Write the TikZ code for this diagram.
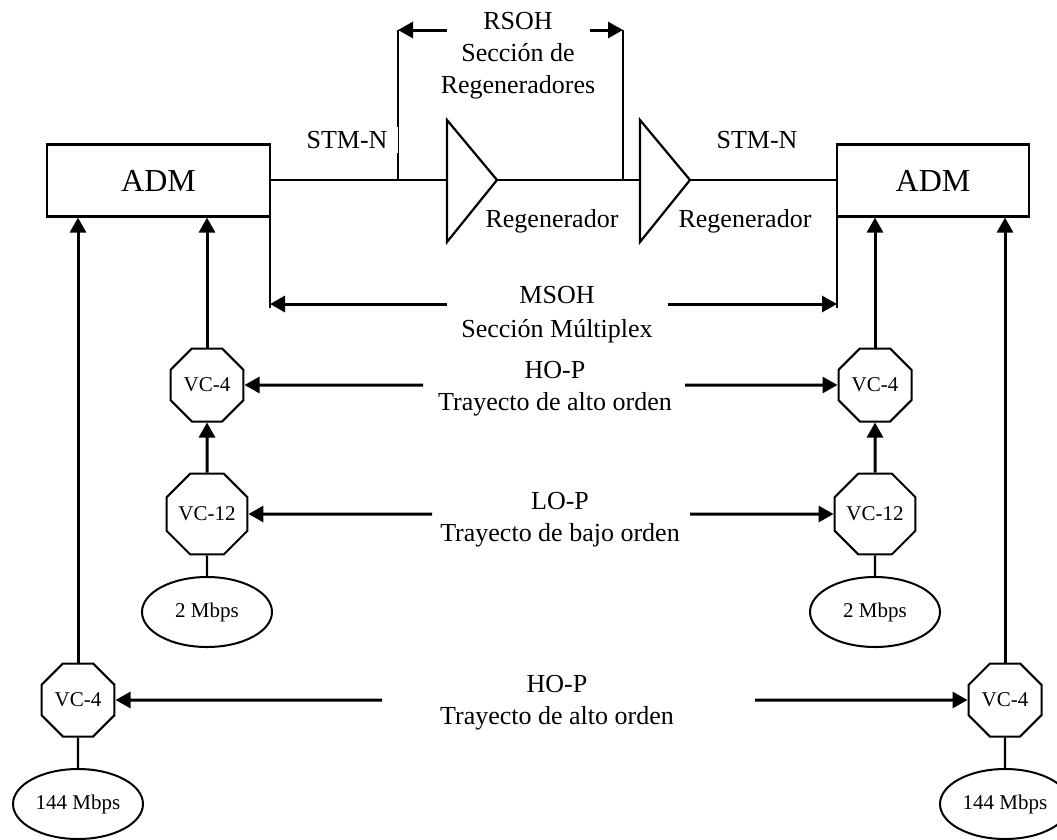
\documentclass[tikz,border=0pt]{standalone}
\usepackage{fontspec}
\setmainfont{Liberation Serif}
\usetikzlibrary{arrows.meta,shapes.geometric}

\begin{document}
\begin{tikzpicture}[x=1pt,y=-1pt,
  every node/.style={inner sep=0pt},
  txt/.style={font=\fontsize{26}{32}\selectfont, align=center},
  small/.style={font=\fontsize{21}{25}\selectfont},
  adm/.style={draw, line width=2.2pt, minimum height=72pt, font=\fontsize{32}{38}\selectfont},
  vc/.style={draw, line width=2pt, fill=white, regular polygon, regular polygon sides=8, minimum size=79pt, small},
  src/.style={draw, line width=2pt, ellipse, minimum width=130pt, minimum height=70pt, small},
  link/.style={line width=2.2pt},
  arr/.style={line width=3pt, -{Triangle[length=15pt,width=16pt]}},
]
\clip (0,0) rectangle (1057,839);

% multiplexers
\node[adm, minimum width=223pt] (admL) at (158.5,180.5) {ADM};
\node[adm, minimum width=192pt] (admR) at (933,180.5) {ADM};

% regenerators on the STM-N line
\coordinate (r1in)  at (447,180);
\coordinate (r1out) at (497,180);
\coordinate (r2in)  at (640,180);
\coordinate (r2out) at (690,180);
\draw[link, line join=miter] (447,120) -- (r1out) -- (447,242) -- cycle;
\draw[link, line join=miter] (640,120) -- (r2out) -- (640,242) -- cycle;
\draw[link] (admL.east |- r1in) -- (r1in);
\draw[link] (r1out) -- (r2in);
\draw[link] (r2out) -- (admR.west |- r2in);

\node[txt] (regA) at (552,221) {Regenerador};
\node[txt] (regB) at (745,221) {Regenerador};

% regenerator section bracket
\coordinate (rsL)    at (398,180);
\coordinate (rsR)    at (623,180);
\coordinate (rsLtop) at (398,30);
\coordinate (rsRtop) at (623,30);
\coordinate (rsLt)   at (447,30);
\coordinate (rsRt)   at (590,30);
\draw[link] (rsL) -- (rsLtop);
\draw[link] (rsR) -- (rsRtop);
\draw[arr] (rsLt) -- (rsLtop);
\draw[arr] (rsRt) -- (rsRtop);
\node[txt] (rsoh) at (518,56) {RSOH\\Sección de\\Regeneradores};

\node[txt, fill=white, inner xsep=11pt, inner ysep=4pt] (stmL) at (347,140) {STM-N};
\node[txt] (stmR) at (757,140) {STM-N};

% multiplex section bracket
\coordinate (msL)    at (270,308);
\coordinate (msR)    at (837,308);
\coordinate (msLtip) at (270,304);
\coordinate (msRtip) at (837,304);
\coordinate (msLt)   at (447,304);
\coordinate (msRt)   at (668,304);
\draw[link] (msL |- admL.south) -- (msL);
\draw[link] (msR |- admR.south) -- (msR);
\draw[arr] (msLt) -- (msLtip);
\draw[arr] (msRt) -- (msRtip);
\node[txt, font=\fontsize{26}{34}\selectfont] (msoh) at (557,315) {MSOH\\Sección Múltiplex};

% containers and tributaries
\node[vc]  (vc4L)  at (207,385) {VC-4};
\node[vc]  (vc12L) at (207,514) {VC-12};
\node[src] (e2L)   at (207,612) {2 Mbps};
\node[vc]  (vc4R)  at (875,385) {VC-4};
\node[vc]  (vc12R) at (875,514) {VC-12};
\node[src] (e2R)   at (875,612) {2 Mbps};
\node[vc]  (vc4bL) at (78,700)   {VC-4};
\node[src] (e144L) at (78,804)   {144 Mbps};
\node[vc]  (vc4bR) at (1005,700) {VC-4};
\node[src] (e144R) at (1005,804) {144 Mbps};

\draw[arr]  (vc4L.north)  -- (vc4L.north |- admL.south);
\draw[arr]  (vc12L.north) -- (vc4L.south);
\draw[link] (vc12L.south) -- (e2L.north);
\draw[arr]  (vc4R.north)  -- (vc4R.north |- admR.south);
\draw[arr]  (vc12R.north) -- (vc4R.south);
\draw[link] (vc12R.south) -- (e2R.north);
\draw[arr]  (vc4bL.north) -- (vc4bL.north |- admL.south);
\draw[link] (vc4bL.south) -- (e144L.north);
\draw[arr]  (vc4bR.north) -- (vc4bR.north |- admR.south);
\draw[link] (vc4bR.south) -- (e144R.north);

% high order path
\coordinate (hoLt) at (423,385);
\coordinate (hoRt) at (685,385);
\draw[arr] (hoLt) -- (vc4L.east);
\draw[arr] (hoRt) -- (vc4R.west);
\node[txt] (hop) at (555,389) {HO-P\\Trayecto de alto orden};

% low order path
\coordinate (loLt) at (432,514);
\coordinate (loRt) at (690,514);
\draw[arr] (loLt) -- (vc12L.east);
\draw[arr] (loRt) -- (vc12R.west);
\node[txt] (lop) at (560,520) {LO-P\\Trayecto de bajo orden};

% high order path, direct 144 Mbps
\coordinate (hobLt) at (382,700);
\coordinate (hobRt) at (755,700);
\draw[arr] (hobLt) -- (vc4bL.east);
\draw[arr] (hobRt) -- (vc4bR.west);
\node[txt] (hopb) at (557,703) {HO-P\\Trayecto de alto orden};
\end{tikzpicture}
\end{document}
